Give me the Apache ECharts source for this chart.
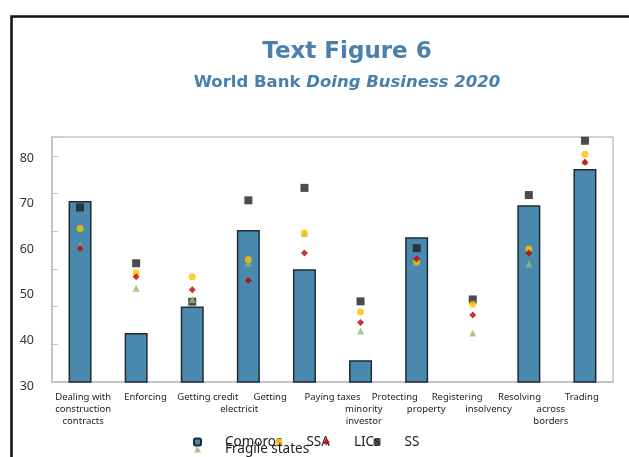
<!DOCTYPE html>
<html>
<head>
<meta charset="utf-8">
<script src="https://cdn.jsdelivr.net/npm/echarts@6/dist/echarts.min.js"></script>
<style>
html,body{margin:0;padding:0;background:#fff;}
#chart{width:629px;height:457px;}
</style>
</head>
<body>
<div id="chart"></div>
<script>
// ---- data ----
const categories = ['Dealing with construction permits','Enforcing contracts','Getting credit','Getting electricity','Paying taxes','Protecting minority investors','Registering property','Resolving insolvency','Starting a business','Trading across borders'];
const comoros = [78.0, 43.0, 50.0, 70.3, 59.9, 35.8, 68.4, 0, 76.9, 86.5];
const ssa     = [70.7, 59.0, 57.9, 62.5, 69.5, 48.6, 62.0, 50.6, 65.3, 90.4];
const lics    = [65.5, 57.9, 54.5, 56.9, 64.2, 45.8, 62.6, 47.8, 64.2, 88.3];
const ss      = [76.3, 61.5, 51.3, 78.2, 81.5, 51.4, 65.5, 51.9, 79.6, 94.0];
const fragile = [66.3, 54.9, 51.9, 61.6, 69.4, 43.5, 61.8, 43.0, 61.3, 88.5];
const labelLine1 = ['Dealing with\nconstruction\ncontracts','Enforcing','Getting credit','Getting','Paying taxes','Protecting','Registering','Resolving','Trading'];
const labelLine2 = ['','','','electricit','','minority\ninvestor','property','insolvency','across\nborders'];
const yTickLabels = ['30','40','50','60','70','80'];
const seriesNames = ['Comoros','SSA','LICs','SS','Fragile states'];
const titleText = 'Text Figure 6';
const subtitlePlain = 'World Bank ';
const subtitleItalic = 'Doing Business 2020';

// ---- chart ----
const chart = echarts.init(document.getElementById('chart'), null, {renderer:'canvas'});
const FONT = 'Noto Sans';
const TFONT = 'DejaVu Sans';
const gray = '#c4c4c4';
const option = {
  backgroundColor:'#fff',
  animation:false,
  title:{
    text:titleText,
    subtext:'{n|' + subtitlePlain + '}{i|' + subtitleItalic + '}',
    left:342, top:36, textAlign:'center', itemGap:10,
    textStyle:{fontFamily:TFONT, fontWeight:'bold', fontSize:23, color:'#4a80ad'},
    subtextStyle:{
      rich:{
        n:{fontFamily:TFONT, fontWeight:'bold', fontSize:16.5, color:'#4a80ad'},
        i:{fontFamily:TFONT, fontWeight:'bold', fontStyle:'italic', fontSize:16.5, color:'#4a80ad'}
      }
    }
  },
  graphic:[{
    type:'rect', left:9, top:14, shape:{width:680, height:500},
    style:{fill:'none', stroke:'#111', lineWidth:2.5}, silent:true
  }],
  legend:{
    data:seriesNames,
    left:193, top:435, width:240, padding:0,
    itemWidth:7, itemHeight:7, itemGap:-7,
    textStyle:{fontFamily:FONT, fontSize:13.5, color:'#222', padding:[0,0,0,19]}
  },
  grid:[
    {left:52, right:16, top:137, bottom:75, show:true, borderColor:gray, borderWidth:1.5},
    {left:36, width:1, top:158, height:228},
    {left:21, width:561, top:137, bottom:75}
  ],
  xAxis:[
    {type:'category', gridIndex:0, data:categories,
     axisLine:{lineStyle:{color:gray, width:2}},
     axisTick:{inside:true, length:4, lineStyle:{color:gray}},
     axisLabel:{show:false}},
    {type:'category', gridIndex:0, data:labelLine1, position:'bottom',
     axisLine:{show:false}, axisTick:{show:false},
     axisLabel:{interval:0, margin:9, fontFamily:FONT, fontSize:9.5, lineHeight:12, color:'#222'}},
    {type:'category', gridIndex:2, data:labelLine2, position:'bottom',
     axisLine:{show:false}, axisTick:{show:false},
     axisLabel:{interval:0, margin:21, fontFamily:FONT, fontSize:9.5, lineHeight:12, color:'#222'}},
    {type:'value', gridIndex:1, show:false}
  ],
  yAxis:[
    {type:'value', gridIndex:0, min:30, max:95, interval:10,
     axisLine:{show:true, lineStyle:{color:gray, width:2}},
     axisTick:{show:true, inside:true, length:6, lineStyle:{color:gray}},
     axisLabel:{show:false}, splitLine:{show:false}},
    {type:'category', gridIndex:1, data:yTickLabels, boundaryGap:false,
     axisLine:{show:false}, axisTick:{show:false}, splitLine:{show:false},
     axisLabel:{interval:0, margin:2, fontFamily:FONT, fontSize:12.5, color:'#333'}},
    {type:'value', gridIndex:2, show:false}
  ],
  series:[
    {name:seriesNames[0], type:'bar', xAxisIndex:0, yAxisIndex:0, data:comoros, barWidth:23,
     itemStyle:{color:'#4a89ad', borderColor:'#1d2b35', borderWidth:1.5}, z:2},
    {name:seriesNames[1], type:'scatter', xAxisIndex:0, yAxisIndex:0, data:ssa, symbol:'circle', symbolSize:7,
     itemStyle:{color:'#ffc000'}, z:5},
    {name:seriesNames[2], type:'scatter', xAxisIndex:0, yAxisIndex:0, data:lics, symbol:'diamond', symbolSize:7,
     itemStyle:{color:'#c00000'}, z:5},
    {name:seriesNames[3], type:'scatter', xAxisIndex:0, yAxisIndex:0, data:ss, symbol:'rect', symbolSize:8,
     itemStyle:{color:'#1f1f1f'}, z:4},
    {name:seriesNames[4], type:'scatter', xAxisIndex:0, yAxisIndex:0, data:fragile, symbol:'triangle', symbolSize:7,
     itemStyle:{color:'#93b978'}, z:4}
  ]
};
chart.setOption(option);
</script>
</body>
</html>
